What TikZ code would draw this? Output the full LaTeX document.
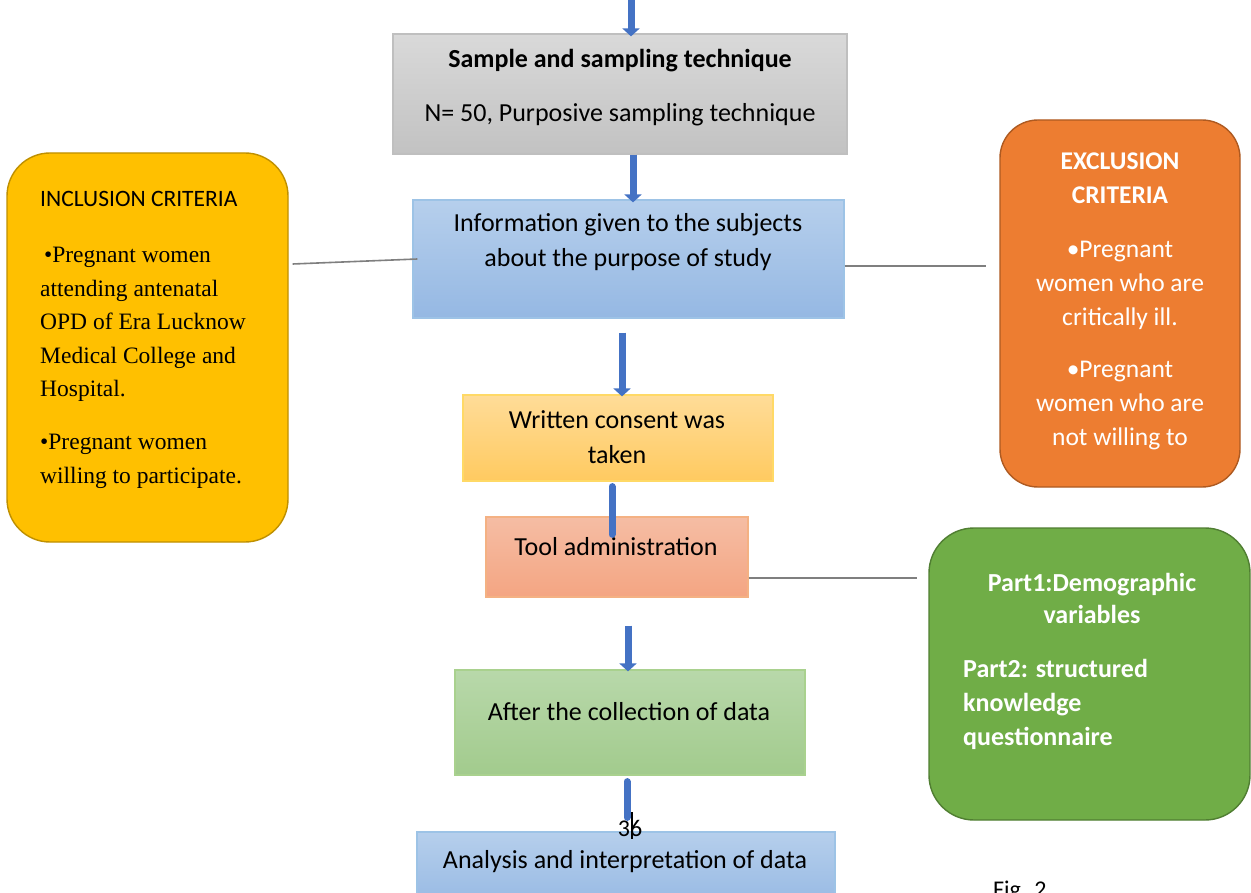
\documentclass[tikz,border=0pt]{standalone}
\usepackage{fontspec}
\setmainfont{Liberation Serif}
\newfontfamily\calfont{Carlito}
\usetikzlibrary{arrows.meta}
\definecolor{arrowblue}{HTML}{4472C4}
\definecolor{grayT}{HTML}{D9D9D9}
\definecolor{grayB}{HTML}{C2C2C2}
\definecolor{grayE}{HTML}{BFBFBF}
\definecolor{blueT}{HTML}{B6CFEC}
\definecolor{blueB}{HTML}{95B8E3}
\definecolor{blueE}{HTML}{9DC3E6}
\definecolor{yelT}{HTML}{FFDC98}
\definecolor{yelB}{HTML}{FFCA60}
\definecolor{yelE}{HTML}{FFD966}
\definecolor{salT}{HTML}{F5BDA4}
\definecolor{salB}{HTML}{F4A582}
\definecolor{salE}{HTML}{F4B183}
\definecolor{grnT}{HTML}{B8D8AA}
\definecolor{grnB}{HTML}{A2CB8D}
\definecolor{grnE}{HTML}{A9D18E}
\definecolor{inclF}{HTML}{FFC000}
\definecolor{inclE}{HTML}{BF9000}
\definecolor{exclF}{HTML}{ED7D31}
\definecolor{exclE}{HTML}{AE5A21}
\definecolor{partF}{HTML}{70AD47}
\definecolor{partE}{HTML}{507E32}
\definecolor{connG}{HTML}{7F7F7F}
\tikzset{
  sqbox/.style={draw, line width=1.2pt, inner sep=0pt},
  rndbox/.style={draw, line width=1.4pt, inner sep=0pt},
  ctext/.style={font=\calfont\fontsize{26}{35}\selectfont, align=center, anchor=base, inner sep=0pt},
  flow/.style={draw=arrowblue, line width=7pt, -{Triangle[width=17pt,length=8pt]}},
  flowline/.style={draw=arrowblue, line width=7pt, line cap=round},
  conn/.style={draw=connG, line width=1.6pt},
}
\begin{document}
\begin{tikzpicture}[x=1pt,y=-1pt]
\useasboundingbox (0,0) rectangle (1251,893);
\clip (0,0) rectangle (1251,893);
\fill[white] (0,0) rectangle (1251,893);

% boxes
\node[sqbox, draw=grayE, top color=grayT, bottom color=grayB, minimum width=454pt, minimum height=120pt] (gray) at (620,94) {};
\node[sqbox, draw=blueE, top color=blueT, bottom color=blueB, minimum width=431pt, minimum height=118pt] (info) at (628.5,259) {};
\node[sqbox, draw=yelE, top color=yelT, bottom color=yelB, minimum width=310pt, minimum height=86pt] (yellow) at (618,438) {};
\node[sqbox, draw=salE, top color=salT, bottom color=salB, minimum width=262pt, minimum height=80pt] (tool) at (617,557) {};
\node[sqbox, draw=grnE, top color=grnT, bottom color=grnB, minimum width=350pt, minimum height=105pt] (glight) at (630,722.5) {};
\node[sqbox, draw=blueE, top color=blueT, bottom color=blueB, minimum width=418pt, minimum height=78pt] (anal) at (626,871) {};

\node[rndbox, draw=inclE, fill=inclF, rounded corners=43pt, minimum width=281pt, minimum height=389pt] (incl) at (147.5,347.5) {};
\node[rndbox, draw=exclE, fill=exclF, rounded corners=38pt, minimum width=240pt, minimum height=367pt] (excl) at (1120,303.5) {};
\node[rndbox, draw=partE, fill=partF, rounded corners=45pt, minimum width=321pt, minimum height=292pt] (part) at (1089.5,674) {};

% texts (base anchor = baseline of the last line)
\node[ctext, font=\calfont\bfseries\fontsize{26}{35}\selectfont] (t1) at (620,68) {Sample and sampling technique};
\node[ctext] (t2) at (620,122) {N= 50, Purposive sampling technique};
\node[ctext] (t3) at (628,267) {Information given to the subjects\\about the purpose of study};
\node[ctext] (t4) at (617,463) {Written consent was\\taken};
\node[ctext] (t5) at (616,555) {Tool administration};
\node[ctext] (t6) at (629,720) {After the collection of data};
\node[ctext] (t7) at (625,868) {Analysis and interpretation of data};

\node[anchor=base west, inner sep=0pt, font=\calfont\fontsize{23.5}{30}\selectfont] (incltitle) at (40,207) {INCLUSION CRITERIA};
\node[anchor=base west, inner sep=0pt, align=left, font=\fontsize{23.5}{33.5}\selectfont] (incltext) at (40,483)
  {\,•Pregnant women\\attending antenatal\\OPD of Era Lucknow\\Medical College and\\Hospital.\\[19.5pt]•Pregnant women\\willing to participate.};

\node[ctext, text=white, font=\calfont\fontsize{25.5}{34}\selectfont] (excltext) at (1120,445)
  {\textbf{EXCLUSION}\\\textbf{CRITERIA}\\[20pt]•Pregnant\\women who are\\critically ill.\\[18pt]•Pregnant\\women who are\\not willing to};

\node[ctext, text=white, font=\calfont\bfseries\fontsize{26}{32}\selectfont] (p1) at (1092,623) {Part1:Demographic\\variables};
\node[anchor=base west, inner sep=0pt, align=left, text=white, font=\calfont\bfseries\fontsize{26}{34}\selectfont] (p2) at (963,745) {Part2: structured\\knowledge\\questionnaire};

\node[ctext, font=\calfont\fontsize{24}{30}\selectfont] (pg) at (630,836) {36};
\node[anchor=base west, inner sep=0pt, font=\calfont\fontsize{24}{30}\selectfont] (fig) at (993,897) {Fig. 2};

% arrows
\coordinate (topstart) at (631,-5);
\draw[flow] (topstart) -- ([xshift=11pt,yshift=-3pt]gray.north);
\draw[flow] ([xshift=13pt]gray.south) -- ([xshift=4.5pt,yshift=-3pt]info.north);
\draw[flow] ([xshift=-6.5pt,yshift=-14pt]info.south) -- ([xshift=4pt,yshift=-2pt]yellow.north);
\draw[flowline] ([xshift=-6pt,yshift=-5pt]yellow.south) -- ([xshift=-5pt,yshift=-18pt]tool.north);
\draw[flow] ([xshift=11pt,yshift=-28pt]tool.south) -- ([xshift=-2pt,yshift=-2pt]glight.north);
\draw[flowline] ([xshift=-3pt,yshift=-6pt]glight.south) -- ([xshift=1pt,yshift=14pt]anal.north);
\draw[black, line width=1.2pt] ([xshift=6pt,yshift=19pt]anal.north) -- ([xshift=6pt,yshift=-8pt]anal.north);

% connectors
\draw[conn] ([xshift=4pt,yshift=83.5pt]incl.east) -- ([xshift=5pt]info.west);
\draw[conn] ([yshift=-7pt]info.east) -- ([xshift=-13pt,yshift=37.5pt]excl.west);
\draw[conn] ([yshift=-21pt]tool.east) -- ([xshift=-11pt,yshift=96pt]part.west);
\end{tikzpicture}
\end{document}
